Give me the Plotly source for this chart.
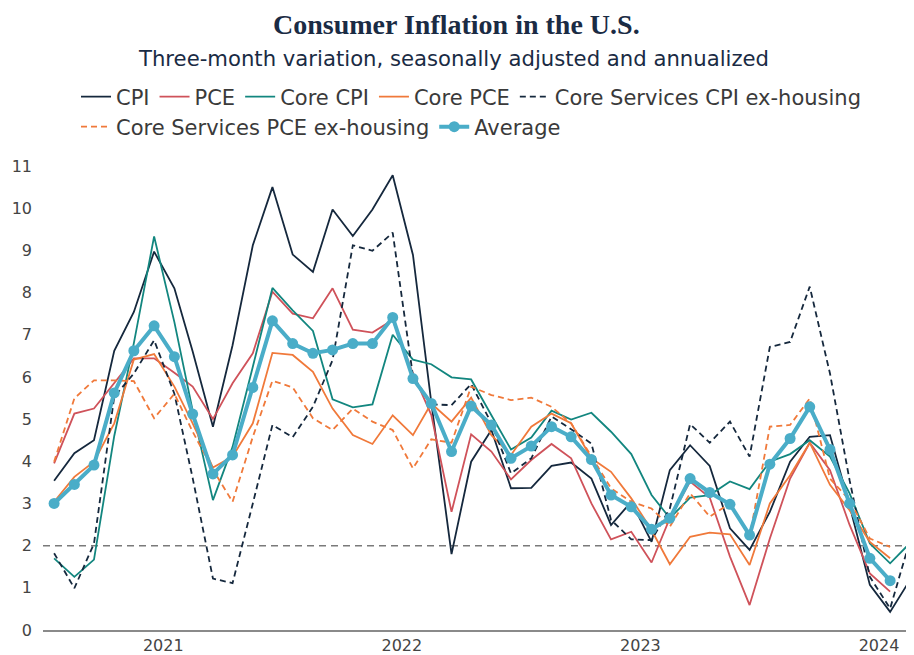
import plotly.graph_objects as go
import pandas as pd

# monthly observations, Aug 2020 - Mar 2024
months = pd.date_range("2020-08-01", periods=44, freq="MS")

cpi = [3.54, 4.19, 4.50, 6.62, 7.54, 8.97, 8.10, 6.6, 4.82,
       6.75, 9.12, 10.5, 8.90, 8.49, 9.97, 9.34, 9.97, 10.78,
       8.89, 5.4, 1.8, 3.99, 4.74, 3.36, 3.37, 3.89, 3.97,
       3.59, 2.49, 3.04, 2.09, 3.79, 4.38, 3.89, 2.41, 1.9,
       2.80, 3.99, 4.58, 4.62, 2.95, 1.07, 0.43, 1.15]
pce = [3.95, 5.13, 5.25, 5.85, 6.44, 6.44, 6.1, 5.77, 5.0,
       5.85, 6.56, 8.02, 7.50, 7.39, 8.10, 7.12, 7.05, 7.35,
       6.08, 5.1, 2.80, 4.64, 4.23, 3.57, 4.03, 4.41, 4.07,
       3.0, 2.15, 2.33, 1.60, 2.65, 3.52, 3.14, 1.74, 0.59,
       2.17, 3.59, 4.44, 3.79, 2.49, 1.34, 0.91, None]
core_cpi = [1.70, 1.26, 1.67, 4.6, 6.8, 9.33, 7.3, 5.2, 3.08,
            4.34, 6.24, 8.11, 7.58, 7.09, 5.47, 5.28, 5.35, 7.0,
            6.41, 6.30, 5.99, 5.94, 5.09, 4.28, 4.56, 5.20, 4.99,
            5.15, 4.70, 4.17, 3.20, 2.65, 3.14, 3.20, 3.52, 3.34,
            3.99, 4.17, 4.50, 4.11, 3.24, 2.05, 1.58, 2.04]
core_pce = [3.04, 3.63, 3.99, 4.90, 6.41, 6.54, 5.77, 4.90, 3.85,
            4.11, 4.90, 6.57, 6.52, 6.12, 5.25, 4.62, 4.41, 5.09,
            4.62, 5.37, 4.94, 5.51, 4.62, 4.15, 4.82, 5.13, 4.90,
            4.07, 3.75, 3.12, 2.37, 1.56, 2.21, 2.31, 2.27, 1.54,
            3.0, 3.67, 4.44, 3.44, 2.84, 2.09, 1.70, None]
cs_cpi_exh = [1.82, 0.99, 2.05, 5.53, 6.08, 6.87, 5.6, 3.6, 1.22,
              1.11, 3.0, 4.86, 4.57, 5.29, 6.40, 9.12, 8.99, 9.42,
              6.02, 5.35, 5.33, 5.83, 4.90, 3.71, 4.07, 5.06, 4.76,
              4.42, 2.61, 2.15, 2.13, 2.88, 4.88, 4.44, 4.94, 4.11,
              6.71, 6.83, 8.14, 6.08, 3.55, 1.26, 0.51, 2.05]
cs_pce_exh = [3.99, 5.49, 5.92, 5.92, 5.9, 5.02, 5.6, 4.7, 3.8,
              3.04, 4.58, 5.91, 5.75, 5.02, 4.74, 5.25, 4.94, 4.74,
              3.83, 4.52, 4.44, 5.77, 5.57, 5.45, 5.51, 5.29, 4.90,
              4.11, 3.36, 3.04, 2.88, 2.45, 3.24, 2.69, 3.0, 2.21,
              4.82, 4.86, 5.49, 3.59, 3.08, 2.17, 1.97, None]
average = [3.0, 3.45, 3.91, 5.62, 6.62, 7.21, 6.48, 5.12, 3.70,
           4.15, 5.75, 7.33, 6.79, 6.56, 6.64, 6.79, 6.79, 7.41,
           5.96, 5.37, 4.23, 5.31, 4.86, 4.07, 4.36, 4.82, 4.58,
           4.04, 3.20, 2.92, 2.39, 2.65, 3.59, 3.26, 2.98, 2.25,
           3.93, 4.54, 5.29, 4.28, 3.0, 1.70, 1.17, None]

year_ticks = ["2021-01-15", "2022-01-15", "2023-01-15", "2024-01-15"]
year_labels = ["2021", "2022", "2023", "2024"]

NAVY = "#15283d"
RED = "#cf525a"
TEAL = "#12867f"
ORANGE = "#f0793a"
BLUE = "#4aadc8"
SANS = "DejaVu Sans"

# page body adds an 8px margin, so the figure is 8px smaller than the window
W, H = 906, 647

fig = go.Figure()

# first five on legend row one, the rest on row two
series = [
    ("CPI", cpi, NAVY, "solid", "legend"),
    ("PCE", pce, RED, "solid", "legend"),
    ("Core CPI", core_cpi, TEAL, "solid", "legend"),
    ("Core PCE", core_pce, ORANGE, "solid", "legend"),
    ("Core Services CPI ex-housing", cs_cpi_exh, NAVY, "6px,4px", "legend"),
    ("Core Services PCE ex-housing", cs_pce_exh, ORANGE, "6px,4px", "legend2"),
]
for name, vals, color, dash, leg in series:
    fig.add_trace(go.Scatter(x=months, y=vals, name=name, mode="lines", legend=leg,
                             line=dict(color=color, width=1.8, dash=dash)))

fig.add_trace(go.Scatter(x=months, y=average, name="Average", mode="lines+markers",
                         legend="legend2",
                         line=dict(color=BLUE, width=4),
                         marker=dict(color=BLUE, size=11)))

# 2% target line
fig.add_hline(y=2, line=dict(color="#7a7a7a", width=1.5, dash="7px,5px"), layer="below")

leg_common = dict(orientation="h", xref="container", yref="container",
                  x=68 / W, xanchor="left", yanchor="middle",
                  font=dict(family=SANS, size=21, color="#3a3a3a"),
                  bgcolor="rgba(0,0,0,0)", traceorder="normal")

fig.update_layout(
    width=W, height=H,
    margin=dict(l=35, r=1, t=158, b=25, autoexpand=False),
    paper_bgcolor="white", plot_bgcolor="white",
    font=dict(family=SANS, color="#333333"),
    legend=dict(y=1 - 89 / H, **leg_common),
    legend2=dict(y=1 - 119 / H, **leg_common),
    annotations=[
        dict(text="<b>Consumer Inflation in the U.S.</b>", xref="paper", yref="paper",
             x=0.475, y=(622 - 17) / 464, xanchor="center", yanchor="middle",
             showarrow=False,
             font=dict(family="Liberation Serif", size=28, color="#1a2b44")),
        dict(text="Three-month variation, seasonally adjusted and annualized",
             xref="paper", yref="paper",
             x=0.472, y=(622 - 51) / 464, xanchor="center", yanchor="middle",
             showarrow=False,
             font=dict(family=SANS, size=21.2, color="#1a2b44")),
    ],
)

fig.update_xaxes(
    range=["2020-07-15", "2024-03-07"],
    tickvals=year_ticks, ticktext=year_labels,
    showgrid=False, showline=True, linecolor="#8a8a8a", linewidth=1.5,
    ticks="", tickfont=dict(size=16, color="#444444"),
    zeroline=False,
)
fig.update_yaxes(
    range=[0, 11], dtick=1, showgrid=False, zeroline=False, showline=False,
    tickfont=dict(size=16, color="#444444"), ticklabelstandoff=10,
)

fig.write_html("out.html")
